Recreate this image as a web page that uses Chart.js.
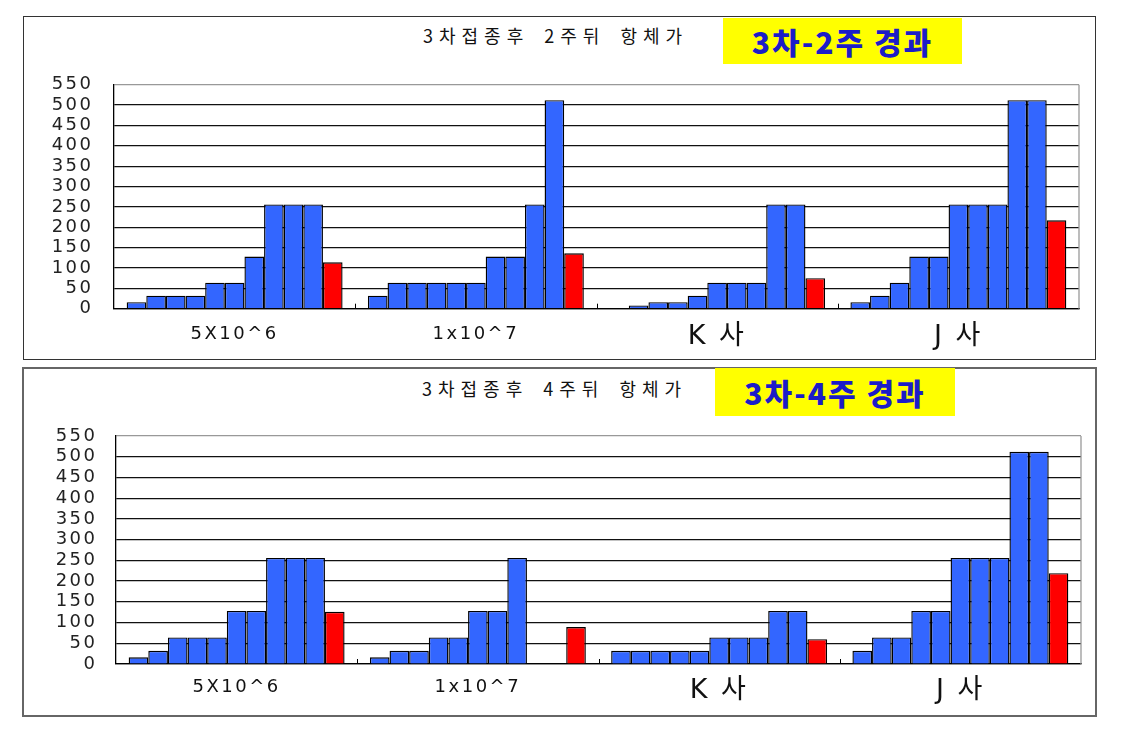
<!DOCTYPE html>
<html><head><meta charset="utf-8">
<script src="https://cdn.jsdelivr.net/npm/chart.js@4.4.1/dist/chart.umd.min.js"></script>
<style>
html,body{margin:0;padding:0;background:#fff;width:1121px;height:731px;overflow:hidden;position:relative;}
.frame{position:absolute;box-sizing:border-box;}
.cv{position:absolute;}
.title{position:absolute;font-family:'Noto Sans CJK KR';font-size:18px;letter-spacing:6px;word-spacing:5px;color:#111;white-space:nowrap;line-height:20px;}
.tag{position:absolute;background:#ffff00;color:#1c1cc8;font-family:'Noto Sans CJK KR';font-weight:900;font-size:30px;letter-spacing:2px;display:flex;align-items:center;justify-content:center;white-space:nowrap;}
</style></head><body>
<div class="frame" style="left:23px;top:16px;width:1073px;height:344px;border:1.5px solid #333"></div>
<div class="frame" style="left:22px;top:367px;width:1075px;height:350px;border:2px solid #666"></div>
<div class="title" id="t1" style="left:423px;top:25px;"></div>
<div class="tag" id="g1" style="left:723px;top:18px;width:239px;height:46px;"></div>
<div class="title" id="t2" style="left:422px;top:378px;"></div>
<div class="tag" id="g2" style="left:715px;top:368px;width:240px;height:48px;"></div>
<div class="cv" style="left:23px;top:16px;width:1073px;height:344px;"><canvas id="c1"></canvas></div>
<div class="cv" style="left:22px;top:367px;width:1075px;height:350px;"><canvas id="c2"></canvas></div>
<script>
// ---- data ----
const categories = ['5X10^6', '1x10^7', 'K 사', 'J 사'];
const titleWeek2 = '3차접종후 2주뒤 항체가';
const tagWeek2 = '3차-2주 경과';
const titleWeek4 = '3차접종후 4주뒤 항체가';
const tagWeek4 = '3차-4주 경과';
const yMin = 0, yMax = 550, yStep = 50;

// week 2 (blue bars per group, 10 slots each) and red summary bar
const w2_5x10e6 = [16, 32, 32, 32, 64, 64, 128, 256, 256, 256];
const w2_1x10e7 = [32, 64, 64, 64, 64, 64, 128, 128, 256, 512];
const w2_K = [2, 8, 16, 16, 32, 64, 64, 64, 256, 256];
const w2_J = [16, 32, 64, 128, 128, 256, 256, 256, 512, 512];
const w2_red = [114, 136, 75, 217];

// week 4
const w4_5x10e6 = [16, 32, 64, 64, 64, 128, 128, 256, 256, 256];
const w4_1x10e7 = [16, 32, 32, 64, 64, 128, 128, 256, null, null];
const w4_K = [32, 32, 32, 32, 32, 64, 64, 64, 128, 128];
const w4_J = [32, 64, 64, 128, 128, 256, 256, 256, 512, 512];
const w4_red = [126, 89, 60, 219];

document.getElementById('t1').textContent = titleWeek2;
document.getElementById('g1').textContent = tagWeek2;
document.getElementById('t2').textContent = titleWeek4;
document.getElementById('g2').textContent = tagWeek4;

const BLUE = '#3366ff', RED = '#ff0000';

function buildDatasets(groups, red) {
  const ds = [];
  for (let i = 0; i < groups[0].length; i++) {
    ds.push({ data: groups.map(g => g[i]), backgroundColor: BLUE, borderColor: '#000', borderWidth: 1.4, borderSkipped: 'bottom' });
  }
  ds.push({ data: red, backgroundColor: RED, borderColor: '#000', borderWidth: 1.4, borderSkipped: 'bottom' });
  return ds;
}

const LS = '2.5px';
const spacing = {
  id: 'spacing',
  beforeUpdate(c) { c.ctx.letterSpacing = LS; },
  beforeLayout(c) { c.ctx.letterSpacing = LS; },
  beforeDraw(c) { c.ctx.letterSpacing = LS; }
};
const frameLines = {
  id: 'frameLines',
  beforeDatasetsDraw(c) {
    const a = c.chartArea, ctx = c.ctx, x = c.scales.x;
    ctx.save();
    ctx.strokeStyle = '#999'; ctx.lineWidth = 1.3;
    ctx.beginPath(); ctx.moveTo(a.right, a.top); ctx.lineTo(a.right, a.bottom); ctx.stroke();
    ctx.strokeStyle = '#000'; ctx.lineWidth = 1;
    for (let i = 1; i < categories.length; i++) {
      const px = Math.round((x.getPixelForTick(i - 1) + x.getPixelForTick(i)) / 2) + 0.5;
      ctx.beginPath(); ctx.moveTo(px, a.bottom); ctx.lineTo(px, a.bottom - 5); ctx.stroke();
    }
    ctx.restore();
  }
};

function makeChart(id, groups, red, geo) {
  return new Chart(document.getElementById(id), {
    type: 'bar',
    data: { labels: categories, datasets: buildDatasets(groups, red) },
    options: {
      responsive: true, maintainAspectRatio: false, animation: false,
      layout: { padding: { left: 0, right: geo.right, top: geo.top, bottom: 0 } },
      datasets: { bar: { categoryPercentage: 0.895, barPercentage: 1 } },
      plugins: { legend: { display: false }, tooltip: { enabled: false } },
      scales: {
        x: {
          grid: { drawOnChartArea: false, drawTicks: false },
          border: { display: true, color: '#000', width: 1.3 },
          ticks: {
            color: '#111', padding: geo.xpad, autoSkip: false, maxRotation: 0,
            font: (ctx) => ctx.index >= 2
              ? { family: "'DejaVu Sans', 'Noto Sans CJK KR'", size: 27, lineHeight: 1.0 }
              : { family: "'DejaVu Sans'", size: 18, lineHeight: 1.2 }
          },
          afterFit: (s) => { s.height = geo.xh; }
        },
        y: {
          min: yMin, max: yMax,
          grid: { drawTicks: false, color: (ctx) => ctx.tick && ctx.tick.value === yMax ? '#999' : '#111', lineWidth: 1.2 },
          border: { display: true, color: '#000', width: 1.3 },
          ticks: { stepSize: yStep, autoSkip: false, color: '#222', padding: geo.ypad, font: { family: "'DejaVu Sans'", size: 18, lineHeight: 1 } },
          afterFit: (s) => { s.width = geo.yw; }
        }
      }
    },
    plugins: [spacing, frameLines]
  });
}

makeChart('c1', [w2_5x10e6, w2_1x10e7, w2_K, w2_J], w2_red, { right: 17, top: 68.7, xh: 51.3, yw: 91, ypad: 20.5, xpad: 15 });
makeChart('c2', [w4_5x10e6, w4_1x10e7, w4_K, w4_J], w4_red, { right: 16, top: 69, xh: 53, yw: 94, ypad: 18.5, xpad: 13 });
</script>
</body></html>
